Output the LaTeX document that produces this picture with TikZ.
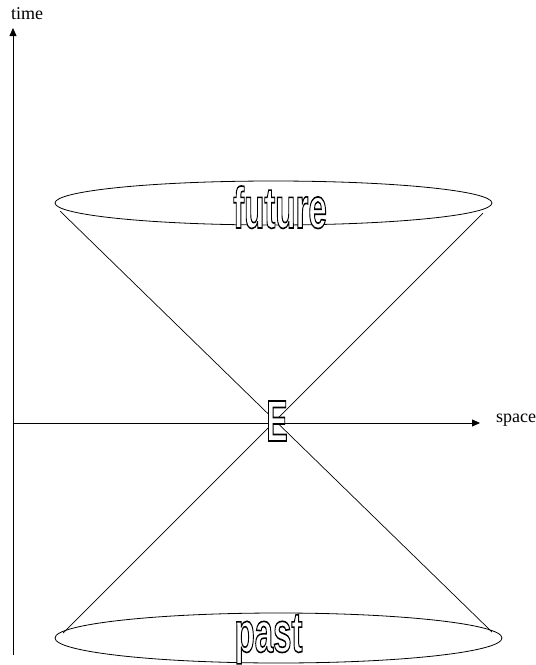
\documentclass[tikz,border=0pt]{standalone}
\usepackage{fontspec}
\setmainfont{Liberation Serif}
\newfontfamily\outfont{Liberation Sans}
\usetikzlibrary{arrows.meta,shapes.geometric}
\newcommand\outltext[3]{\scalebox{#2}[1]{\color{white}\special{pdf:code 2 Tr 1.6 w 0 G}\fontsize{#1}{#1}\outfont\bfseries #3\special{pdf:code 0 Tr}}}
\begin{document}
\begin{tikzpicture}[x=1pt,y=-1pt,
  axis/.style={line width=0.8pt,-{Triangle[length=8pt,width=7pt]}},
  cone/.style={line width=0.7pt},
  lbl/.style={font=\fontsize{18}{20}\selectfont,inner sep=0pt},
  outl/.style={inner sep=0pt}]
\useasboundingbox (0,0) rectangle (536,665);
% axes
\coordinate (vbot) at (13,655);
\coordinate (vtop) at (13,28);
\coordinate (hleft) at (13,423);
\coordinate (hright) at (480,423);
\node[lbl] (time) at (27,14) {time};
\node[lbl] (space) at (516,420) {space};
\draw[axis] (vbot) -- (vtop);
\draw[axis] (hleft) -- (hright);
% ellipses
\node[ellipse,draw,line width=0.8pt,minimum width=437pt,minimum height=44pt,inner sep=0pt] (fut) at (273.5,203) {};
\node[ellipse,draw,line width=0.8pt,minimum width=447pt,minimum height=50pt,inner sep=0pt] (pst) at (278.5,638) {};
% cone
\coordinate (tl) at (60,211);
\coordinate (tr) at (483,213);
\coordinate (bl) at (63,633);
\coordinate (br) at (492,632);
\draw[cone] (tl) -- (br);
\draw[cone] (tr) -- (bl);
% outlined labels
\node[outl,anchor=base] (futuretext) at (280,228) {\outltext{58}{0.57}{future}};
\node[outl,anchor=base] (pasttext) at (268.5,652) {\outltext{57}{0.58}{past}};
\node[outl] (E) at (277,421) {\outltext{58}{0.55}{E}};
\end{tikzpicture}
\end{document}
